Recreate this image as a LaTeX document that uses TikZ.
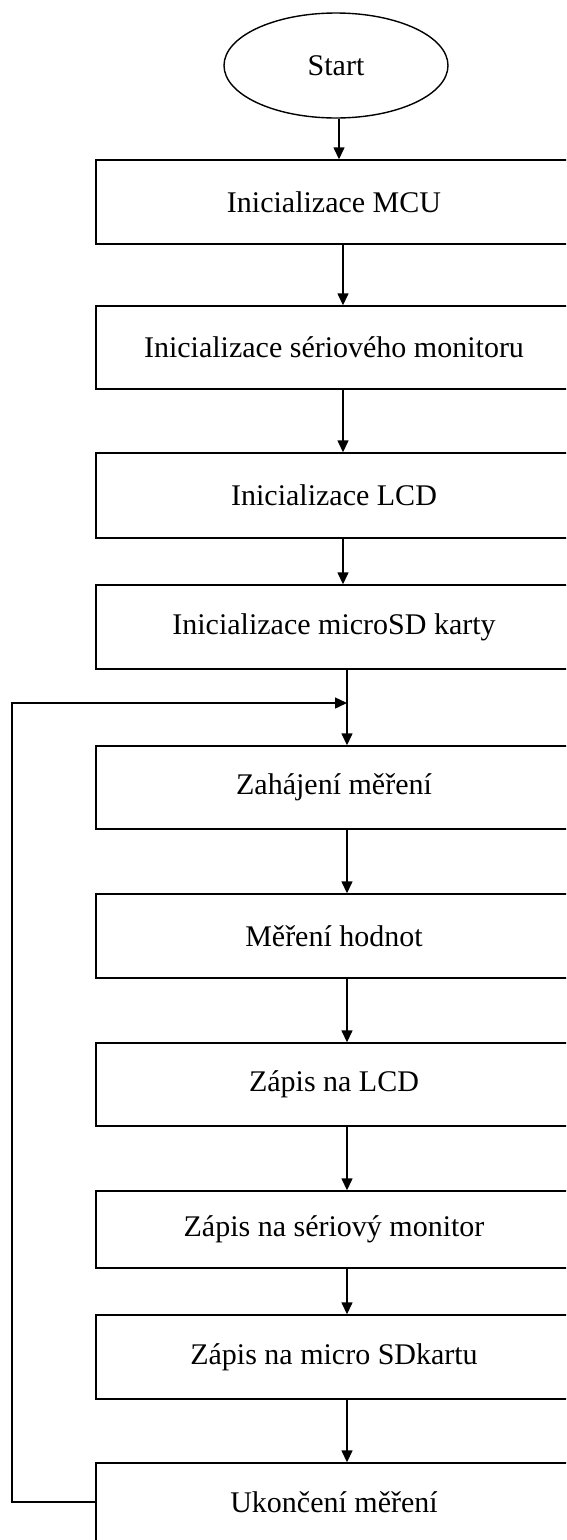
\documentclass[tikz,border=0pt]{standalone}
\usepackage{fontspec}
\setmainfont{Liberation Serif}
\usetikzlibrary{arrows.meta,shapes.geometric}
\begin{document}
\begin{tikzpicture}[x=1pt,y=-1pt,
  lw/.style={line width=1.4pt},
  txt/.style={font=\fontsize{30}{36}\selectfont},
  box/.style={draw, lw, txt, rectangle, minimum width=476pt, inner sep=0pt},
  term/.style={draw, lw, txt, ellipse, minimum width=224pt, minimum height=105pt, inner sep=0pt},
  arr/.style={lw, -{Triangle[length=12pt,width=11pt]}}]
\useasboundingbox (0,0) rectangle (566,1540);
\clip (0,0) rectangle (566,1540);
\fill[white] (0,0) rectangle (566,1540);
\node[term] (start) at (336,65.5) {Start};
\node[box, minimum height=84pt] (b1) at (334,202) {Inicializace MCU};
\node[box, minimum height=83pt] (b2) at (334,347.5) {Inicializace sériového monitoru};
\node[box, minimum height=85pt] (b3) at (334,495.5) {Inicializace LCD};
\node[box, minimum height=84pt] (b4) at (334,627) {Inicializace microSD karty};
\node[box, minimum height=83pt] (b5) at (334,787.5) {Zahájení měření};
\node[box, minimum height=84pt] (b6) at (334,936) {Měření hodnot};
\node[box, minimum height=83pt] (b7) at (334,1084.5) {Zápis na LCD};
\node[box, minimum height=77pt] (b8) at (334,1229.5) {Zápis na sériový monitor};
\node[box, minimum height=84pt] (b9) at (334,1357) {Zápis na micro SDkartu};
\node[box, minimum height=78pt] (b10) at (334,1502) {Ukončení měření};
\coordinate (j) at (347,703);
\coordinate (lp) at (12,703);
\draw[arr] ([xshift=3pt]start.south) -- ([xshift=5pt]b1.north);
\draw[arr] ([xshift=9pt]b1.south) -- ([xshift=9pt]b2.north);
\draw[arr] ([xshift=9pt]b2.south) -- ([xshift=9pt]b3.north);
\draw[arr] ([xshift=9pt]b3.south) -- ([xshift=9pt]b4.north);
\draw[arr] ([xshift=13pt]b4.south) -- ([xshift=13pt]b5.north);
\draw[arr] ([xshift=13pt]b5.south) -- ([xshift=13pt]b6.north);
\draw[arr] ([xshift=13pt]b6.south) -- ([xshift=13pt]b7.north);
\draw[arr] ([xshift=13pt]b7.south) -- ([xshift=13pt]b8.north);
\draw[arr] ([xshift=13pt]b8.south) -- ([xshift=13pt]b9.north);
\draw[arr] ([xshift=13pt]b9.south) -- ([xshift=13pt]b10.north);
\draw[arr] (b10.west) -| (lp) -- (j);
\end{tikzpicture}
\end{document}
